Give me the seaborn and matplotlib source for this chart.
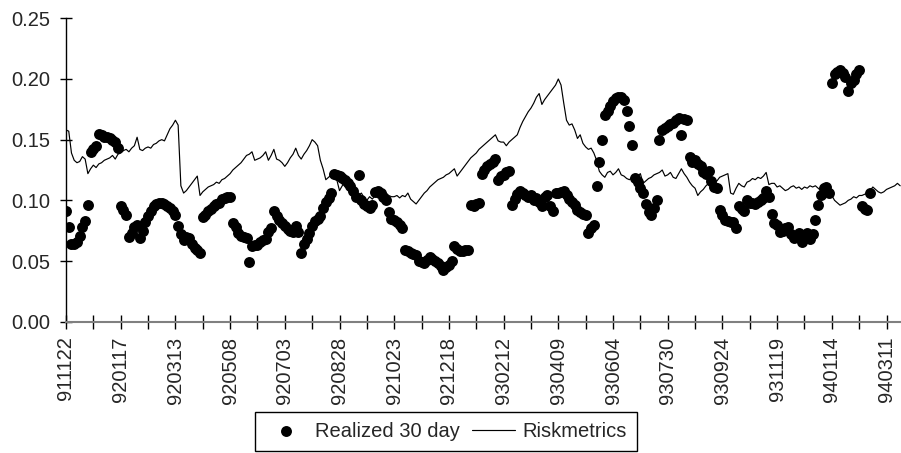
import numpy as np
import pandas as pd
import matplotlib
matplotlib.use("Agg")
import matplotlib.pyplot as plt
from matplotlib.ticker import FormatStrFormatter
import seaborn as sns

# Trading-day labels shown on the x axis (one every 40 trading days)
date_labels = ["911122", "920117", "920313", "920508", "920703", "920828",
               "921023", "921218", "930212", "930409", "930604", "930730",
               "930924", "931119", "940114", "940311"]

# Riskmetrics volatility estimate, sampled every second trading day
riskmetrics = [
    0.158, 0.157, 0.139, 0.133, 0.131, 0.132, 0.136, 0.134, 0.122, 0.126, 0.129, 0.127, 0.130, 0.131, 0.133, 0.134, 0.135, 0.137, 0.134, 0.138,
    0.139, 0.141, 0.142, 0.140, 0.143, 0.145, 0.152, 0.142, 0.141, 0.143, 0.144, 0.143, 0.146, 0.147, 0.149, 0.150, 0.149, 0.154, 0.159, 0.162,
    0.166, 0.162, 0.112, 0.106, 0.108, 0.111, 0.114, 0.117, 0.120, 0.104, 0.107, 0.109, 0.111, 0.112, 0.113, 0.115, 0.114, 0.117, 0.118, 0.120,
    0.122, 0.125, 0.127, 0.129, 0.131, 0.134, 0.137, 0.138, 0.140, 0.133, 0.134, 0.135, 0.137, 0.140, 0.133, 0.137, 0.142, 0.134, 0.133, 0.131,
    0.128, 0.131, 0.135, 0.138, 0.143, 0.137, 0.134, 0.138, 0.141, 0.145, 0.150, 0.148, 0.145, 0.133, 0.126, 0.117, 0.119, 0.121, 0.119, 0.117,
    0.108, 0.112, 0.114, 0.110, 0.107, 0.109, 0.106, 0.104, 0.106, 0.102, 0.100, 0.103, 0.101, 0.104, 0.102, 0.105, 0.103, 0.106, 0.104, 0.103,
    0.103, 0.104, 0.102, 0.104, 0.103, 0.106, 0.101, 0.099, 0.097, 0.100, 0.103, 0.106, 0.108, 0.111, 0.113, 0.115, 0.117, 0.118, 0.119, 0.121,
    0.122, 0.124, 0.126, 0.120, 0.123, 0.126, 0.129, 0.132, 0.135, 0.137, 0.139, 0.142, 0.144, 0.146, 0.148, 0.150, 0.152, 0.154, 0.149, 0.148,
    0.148, 0.145, 0.148, 0.150, 0.152, 0.154, 0.160, 0.165, 0.169, 0.173, 0.176, 0.180, 0.185, 0.188, 0.179, 0.183, 0.186, 0.189, 0.192, 0.195,
    0.200, 0.195, 0.180, 0.166, 0.162, 0.163, 0.158, 0.151, 0.154, 0.147, 0.144, 0.142, 0.143, 0.139, 0.133, 0.124, 0.121, 0.119, 0.123, 0.124,
    0.121, 0.123, 0.126, 0.121, 0.120, 0.118, 0.117, 0.119, 0.118, 0.120, 0.122, 0.114, 0.116, 0.118, 0.119, 0.121, 0.122, 0.123, 0.125, 0.120,
    0.121, 0.123, 0.119, 0.118, 0.122, 0.126, 0.122, 0.119, 0.115, 0.112, 0.110, 0.104, 0.107, 0.109, 0.112, 0.114, 0.114, 0.115, 0.116, 0.119,
    0.120, 0.121, 0.122, 0.106, 0.105, 0.110, 0.114, 0.112, 0.111, 0.115, 0.116, 0.118, 0.117, 0.119, 0.118, 0.120, 0.123, 0.113, 0.114, 0.114,
    0.111, 0.112, 0.110, 0.108, 0.109, 0.111, 0.112, 0.110, 0.111, 0.109, 0.111, 0.110, 0.112, 0.111, 0.112, 0.110, 0.108, 0.105, 0.107, 0.106,
    0.104, 0.100, 0.098, 0.096, 0.097, 0.098, 0.100, 0.101, 0.103, 0.102, 0.104, 0.104, 0.105, 0.106, 0.108, 0.111, 0.109, 0.107, 0.106, 0.107,
    0.109, 0.110, 0.111, 0.112, 0.114, 0.112,
]

# Realized 30-day volatility, sampled every second trading day
realized_30d = [
    0.091, 0.078, 0.064, 0.064, 0.066, 0.071, 0.078, 0.083, 0.096, 0.140, 0.142, 0.145, 0.155, 0.154, 0.152, 0.152, 0.151, 0.150, 0.148, 0.143,
    0.095, 0.092, 0.088, 0.070, 0.073, 0.078, 0.080, 0.069, 0.075, 0.082, 0.087, 0.091, 0.095, 0.097, 0.098, 0.098, 0.097, 0.095, 0.094, 0.091,
    0.088, 0.079, 0.072, 0.067, 0.070, 0.069, 0.064, 0.061, 0.059, 0.057, 0.086, 0.088, 0.091, 0.093, 0.095, 0.097, 0.098, 0.101, 0.102, 0.103,
    0.103, 0.081, 0.078, 0.073, 0.071, 0.070, 0.069, 0.049, 0.062, 0.063, 0.063, 0.066, 0.067, 0.068, 0.074, 0.077, 0.091, 0.087, 0.084, 0.081,
    0.079, 0.076, 0.075, 0.074, 0.079, 0.074, 0.057, 0.064, 0.068, 0.073, 0.079, 0.083, 0.085, 0.087, 0.094, 0.099, 0.102, 0.106, 0.122, 0.121,
    0.120, 0.118, 0.117, 0.114, 0.112, 0.108, 0.103, 0.121, 0.100, 0.097, 0.095, 0.094, 0.096, 0.107, 0.108, 0.106, 0.103, 0.100, 0.090, 0.085,
    0.084, 0.082, 0.080, 0.077, 0.059, 0.058, 0.057, 0.056, 0.055, 0.050, 0.049, 0.048, 0.051, 0.053, 0.052, 0.050, 0.048, 0.046, 0.043, 0.045,
    0.047, 0.050, 0.062, 0.060, 0.058, 0.058, 0.059, 0.059, 0.096, 0.095, 0.097, 0.098, 0.122, 0.125, 0.128, 0.130, 0.132, 0.134, 0.117, 0.120,
    0.121, 0.123, 0.124, 0.096, 0.101, 0.105, 0.108, 0.106, 0.104, 0.103, 0.104, 0.100, 0.102, 0.099, 0.095, 0.103, 0.104, 0.095, 0.091, 0.106,
    0.106, 0.107, 0.108, 0.104, 0.101, 0.099, 0.096, 0.092, 0.090, 0.089, 0.088, 0.073, 0.077, 0.080, 0.112, 0.132, 0.150, 0.170, 0.174, 0.178,
    0.182, 0.184, 0.185, 0.185, 0.183, 0.174, 0.161, 0.146, 0.118, 0.115, 0.110, 0.106, 0.097, 0.090, 0.088, 0.094, 0.100, 0.150, 0.158, 0.160,
    0.161, 0.163, 0.164, 0.166, 0.168, 0.154, 0.167, 0.166, 0.136, 0.132, 0.133, 0.130, 0.128, 0.123, 0.122, 0.124, 0.116, 0.111, 0.110, 0.092,
    0.088, 0.084, 0.083, 0.082, 0.082, 0.077, 0.095, 0.093, 0.091, 0.100, 0.098, 0.098, 0.097, 0.099, 0.100, 0.102, 0.108, 0.103, 0.089, 0.081,
    0.080, 0.074, 0.075, 0.077, 0.078, 0.072, 0.069, 0.071, 0.073, 0.066, 0.070, 0.073, 0.068, 0.072, 0.084, 0.096, 0.104, 0.110, 0.111, 0.106,
    0.197, 0.204, 0.206, 0.207, 0.205, 0.202, 0.190, 0.197, 0.199, 0.204, 0.207, 0.095, 0.093, 0.092, 0.106,
]

STEP = 2          # trading days between stored observations
LABEL_EVERY = 40  # trading days between labelled ticks

line_df = pd.DataFrame({"day": np.arange(len(riskmetrics)) * STEP, "vol": riskmetrics})
dot_df = pd.DataFrame({"day": np.arange(len(realized_30d)) * STEP, "vol": realized_30d})

sns.set_style("ticks")
plt.rcParams["font.family"] = ["Liberation Sans", "DejaVu Sans"]

fig = plt.figure(figsize=(9.01, 4.53), dpi=100)
ax = fig.add_axes([66 / 901, 1 - 321.7 / 453, 835 / 901, 303.4 / 453])

sns.scatterplot(data=dot_df, x="day", y="vol", ax=ax, color="black", s=62,
                linewidth=0, label="Realized 30 day", zorder=2)
sns.lineplot(data=line_df, x="day", y="vol", ax=ax, color="black",
             linewidth=0.85, label="Riskmetrics", zorder=3)

ax.set_xlabel("")
ax.set_ylabel("")
ax.set_ylim(0, 0.25)
ax.set_xlim(0, 610.6)
ax.set_yticks(np.arange(0, 0.2501, 0.05))
ax.yaxis.set_major_formatter(FormatStrFormatter("%.2f"))

major = np.arange(len(date_labels)) * LABEL_EVERY
ax.set_xticks(major)
ax.set_xticklabels(date_labels, rotation=90)
ax.set_xticks(major[:-1] + LABEL_EVERY // 2, minor=True)

ax.tick_params(axis="x", which="both", direction="inout", length=9.4,
               width=1, color="black", pad=6, labelsize=14.5)
ax.tick_params(axis="y", direction="inout", length=8.6, width=1,
               color="black", pad=7.0, labelsize=14.5)

for side in ("top", "right"):
    ax.spines[side].set_visible(False)
ax.spines["left"].set_color("black")
ax.spines["left"].set_linewidth(1.0)
ax.spines["bottom"].set_color("#808080")
ax.spines["bottom"].set_linewidth(1.5)

handles, labels = ax.get_legend_handles_labels()
ax.get_legend().remove()
leg = fig.legend(handles, labels, loc="upper left",
                 bbox_to_anchor=(255 / 901, 1 - 411.7 / 453), ncol=2,
                 frameon=True, fancybox=False, edgecolor="black", framealpha=1,
                 fontsize=14.5, handlelength=2.1, handletextpad=0.4,
                 columnspacing=0.6, borderpad=0.5, borderaxespad=0)
leg.get_frame().set_linewidth(1.0)

fig.savefig("out.png", dpi=100)
